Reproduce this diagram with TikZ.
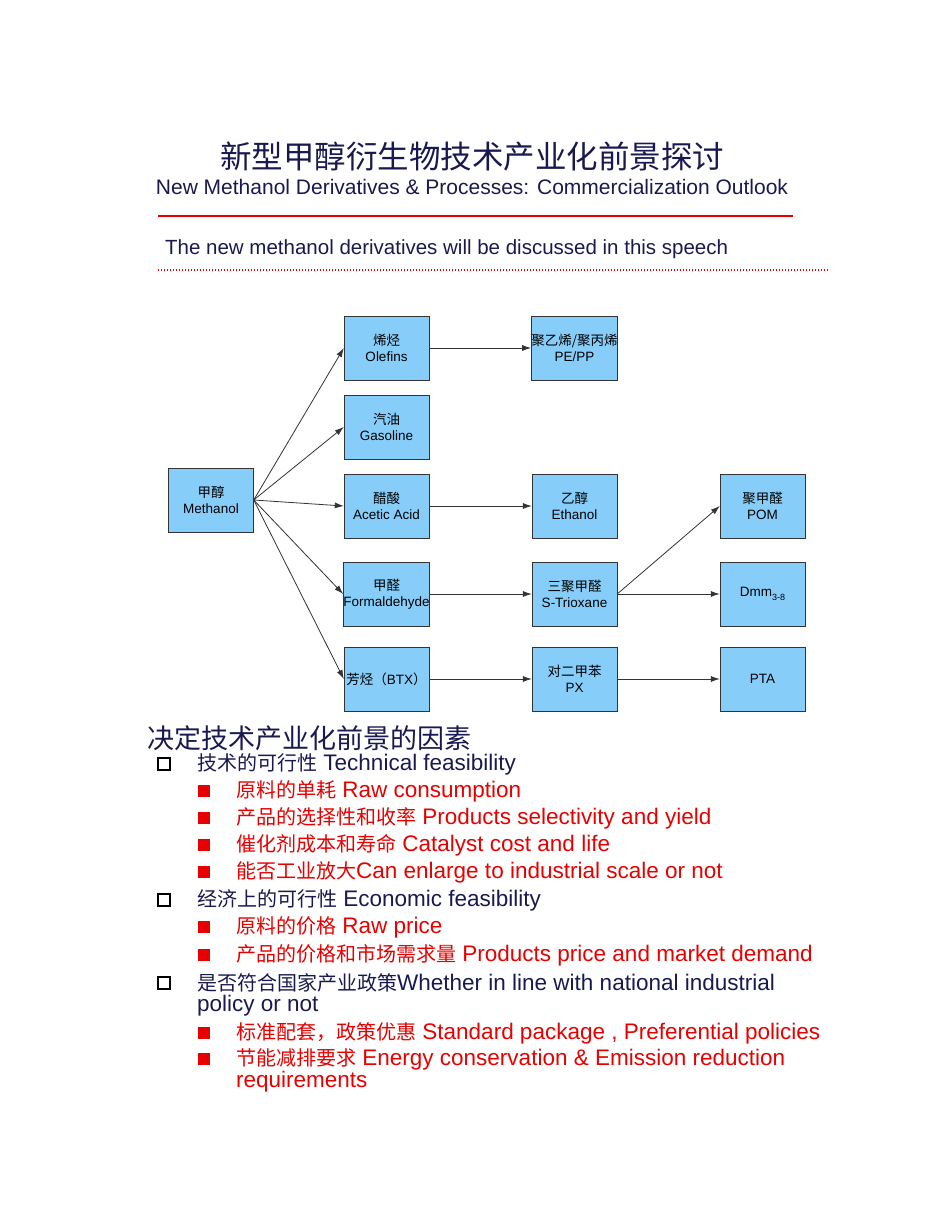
\documentclass[tikz,border=0pt]{standalone}
\usepackage{fontspec}
\setmainfont{Liberation Sans}
\newfontfamily\cjk{Noto Sans CJK SC}
\newcommand{\cz}[1]{{\cjk\fontsize{20}{22}\selectfont #1}}
\usetikzlibrary{arrows.meta}
\definecolor{boxblue}{RGB}{135,205,250}
\definecolor{navy}{RGB}{25,25,80}
\definecolor{myred}{RGB}{230,0,0}
\begin{document}
\begin{tikzpicture}[x=1pt,y=-1pt,
  bx/.style={draw=black!80,fill=boxblue,minimum width=85pt,minimum height=64pt,inner sep=0pt,font=\fontsize{13.5}{15.5}\selectfont,align=center},
  ar/.style={draw=black!80,line width=0.8pt,-{Latex[length=9pt,width=6pt]}},
  lv1/.style={anchor=west,text=navy,font=\fontsize{22.5}{24}\selectfont,inner sep=0pt},
  lv2/.style={anchor=west,text=myred,font=\fontsize{22.5}{24}\selectfont,inner sep=0pt},
  hb/.style={draw=black,line width=1.3pt,minimum size=12pt,inner sep=0pt},
  fb/.style={fill=myred,minimum size=12pt,inner sep=0pt}]
\useasboundingbox (0,0) rectangle (950,1230);
\node[anchor=center,text=navy,font=\cjk\fontsize{31.5}{33}\selectfont] (t1) at (472,157) {新型甲醇衍生物技术产业化前景探讨};
\node[anchor=center,text=navy,font=\fontsize{21}{23}\selectfont] (t2) at (472,187) {New Methanol Derivatives \& Processes: Commercialization Outlook};
\coordinate (r1) at (158,216); \coordinate (r2) at (793,216);
\draw[myred,line width=1.5pt] (r1) -- (r2);
\node[anchor=west,text=navy,font=\fontsize{20.5}{22}\selectfont,inner sep=0pt] (t3) at (165,249) {The new methanol derivatives will be discussed in this speech};
\coordinate (d1) at (158,270); \coordinate (d2) at (830,270);
\draw[myred,line width=1.6pt,dash pattern=on 1.2pt off 1.8pt] (d1) -- (d2);

\node[bx] (meth) at (211,500) {{\cjk 甲醇}\\Methanol};
\node[bx] (ole) at (386.5,348) {{\cjk 烯烃}\\Olefins};
\node[bx] (gas) at (386.5,427) {{\cjk 汽油}\\Gasoline};
\node[bx] (ace) at (386.5,506) {{\cjk 醋酸}\\Acetic Acid};
\node[bx] (form) at (386.5,594) {{\cjk 甲醛}\\Formaldehyde};
\node[bx] (btx) at (386.5,679) {{\cjk 芳烃（}BTX{\cjk ）}};
\node[bx] (pe) at (574.5,348) {{\cjk 聚乙烯/聚丙烯}\\PE/PP};
\node[bx] (eth) at (574.5,506) {{\cjk 乙醇}\\Ethanol};
\node[bx] (tri) at (574.5,594) {{\cjk 三聚甲醛}\\S-Trioxane};
\node[bx] (px) at (574.5,679) {{\cjk 对二甲苯}\\PX};
\node[bx] (pom) at (762.5,506) {{\cjk 聚甲醛}\\POM};
\node[bx] (dmm) at (762.5,594) {Dmm\raisebox{-0.5ex}{\fontsize{9}{10}\selectfont 3-8}};
\node[bx] (pta) at (762.5,679) {PTA};
\foreach \t in {ole,gas,ace,form,btx} \draw[ar] (meth.east) -- (\t.west);
\draw[ar] (ole) -- (pe);
\draw[ar] (ace) -- (eth);
\draw[ar] (form) -- (tri);
\draw[ar] (btx) -- (px);
\draw[ar] (px) -- (pta);
\draw[ar] (tri.east) -- (pom.west);
\draw[ar] (tri.east) -- (dmm.west);

\node[anchor=west,inner sep=0pt,text=navy,font=\cjk\fontsize{27}{29}\selectfont] (h) at (147,738) {决定技术产业化前景的因素};
\node[hb] (b1) at (164,764) {}; \node[lv1] at (197,764) {\cz{技术的可行性} Technical feasibility};
\node[fb] (s1) at (204,791) {}; \node[lv2] at (236,791) {\cz{原料的单耗} Raw consumption};
\node[fb] (s2) at (204,818) {}; \node[lv2] at (236,818) {\cz{产品的选择性和收率} Products selectivity and yield};
\node[fb] (s3) at (204,845) {}; \node[lv2] at (236,845) {\cz{催化剂成本和寿命} Catalyst cost and life};
\node[fb] (s4) at (204,872) {}; \node[lv2] at (236,872) {\cz{能否工业放大}Can enlarge to industrial scale or not};
\node[hb] (b2) at (164,900) {}; \node[lv1] at (197,900) {\cz{经济上的可行性} Economic feasibility};
\node[fb] (s5) at (204,927) {}; \node[lv2] at (236,927) {\cz{原料的价格} Raw price};
\node[fb] (s6) at (204,955) {}; \node[lv2] at (236,955) {\cz{产品的价格和市场需求量} Products price and market demand};
\node[hb] (b3) at (164,983) {}; \node[lv1] at (197,983) {\cz{是否符合国家产业政策}Whether in line with national industrial};
\node[lv1] at (197,1006) {policy or not};
\node[fb] (s7) at (204,1033) {}; \node[lv2] at (236,1033) {\cz{标准配套，政策优惠} Standard package , Preferential policies};
\node[fb] (s8) at (204,1059) {}; \node[lv2] at (236,1059) {\cz{节能减排要求} Energy conservation \& Emission reduction};
\node[lv2] at (236,1082) {requirements};
\end{tikzpicture}
\end{document}
